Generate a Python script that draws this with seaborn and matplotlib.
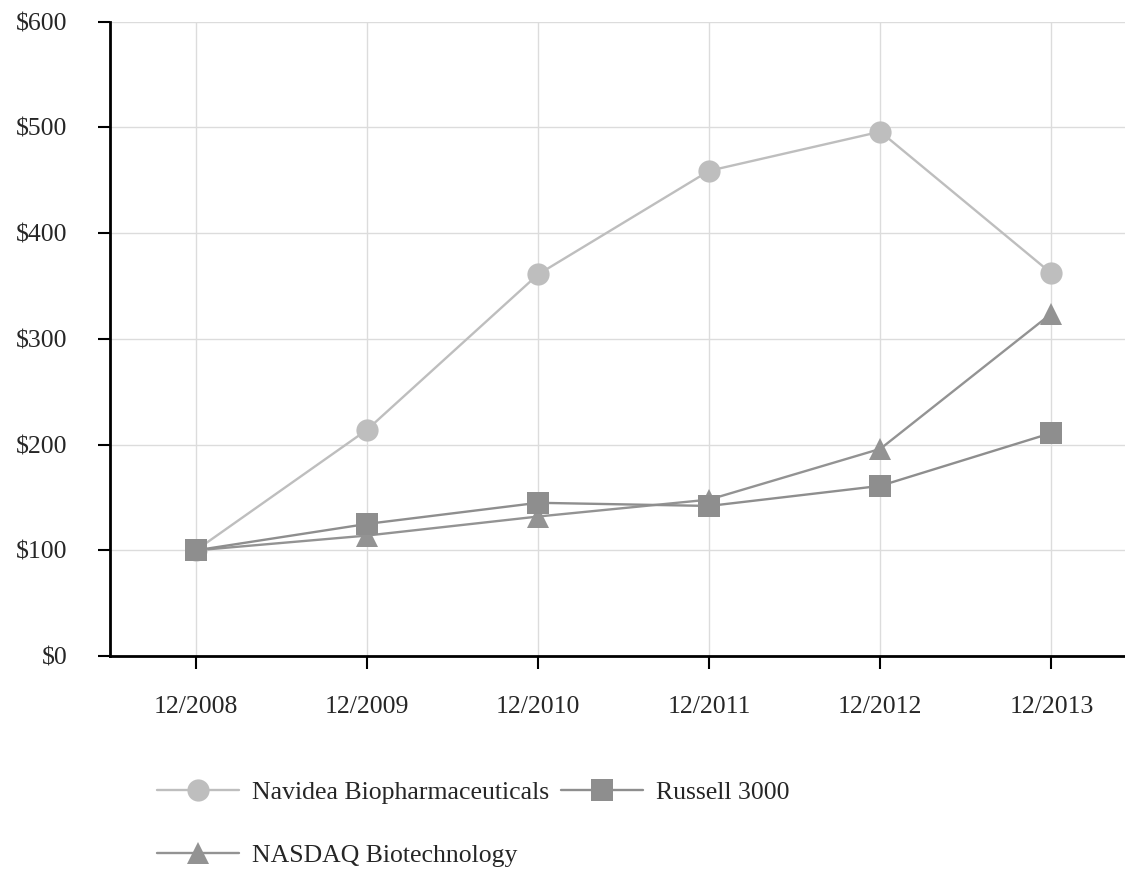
import matplotlib
matplotlib.use('Agg')
import matplotlib.pyplot as plt
import pandas as pd
import seaborn as sns

years = ['12/2008', '12/2009', '12/2010', '12/2011', '12/2012', '12/2013']
navidea = [100, 214, 361, 459, 496, 362]
russell = [100, 125, 145, 142, 161, 211]
nasdaq = [100, 114, 132, 148, 196, 324]
series_names = ['Navidea Biopharmaceuticals', 'Russell 3000', 'NASDAQ Biotechnology']

df = pd.DataFrame({
    'x': list(range(len(years))) * 3,
    'value': navidea + russell + nasdaq,
    'series': [n for n in series_names for _ in years],
})

sns.set_style('white')
plt.rcParams['font.family'] = ['Liberation Serif', 'DejaVu Serif']

fig = plt.figure(figsize=(11.25, 8.69), dpi=100)
ax = fig.add_axes([0.098, 0.245, 0.902, 0.73])

palette = {'Navidea Biopharmaceuticals': '#bebebe', 'Russell 3000': '#8e8e8e',
           'NASDAQ Biotechnology': '#939393'}
markers = {'Navidea Biopharmaceuticals': 'o', 'Russell 3000': 's',
           'NASDAQ Biotechnology': '^'}

# draw NASDAQ first so squares stay on top
for name in ['NASDAQ Biotechnology', 'Navidea Biopharmaceuticals', 'Russell 3000']:
    sub = df[df['series'] == name]
    sns.lineplot(data=sub, x='x', y='value', color=palette[name], marker=markers[name],
                 markersize=16, markeredgewidth=0, linewidth=1.7, ax=ax, label=name)

ax.set_xlim(-0.5, 5.43)
ax.set_ylim(0, 600)
ax.set_xticks(range(len(years)))
ax.set_xticklabels(years)
ax.set_yticks(range(0, 601, 100))
ax.set_yticklabels([f'${v}' for v in range(0, 601, 100)])
ax.set_xlabel('')
ax.set_ylabel('')
ax.grid(True, color='#dcdcdc', linewidth=1)
for s in ['top', 'right']:
    ax.spines[s].set_visible(False)
for s in ['left', 'bottom']:
    ax.spines[s].set_color('black')
    ax.spines[s].set_linewidth(2)
ax.tick_params(axis='both', which='both', direction='out', length=9, width=1.5,
               color='black', labelsize=18.5, left=True, bottom=True)
ax.tick_params(axis='x', pad=20)
ax.tick_params(axis='y', pad=22)

handles, labels = ax.get_legend_handles_labels()
# legend fills column-wise: row 1 = Navidea, Russell; row 2 = NASDAQ
legend_order = ['Navidea Biopharmaceuticals', 'NASDAQ Biotechnology', 'Russell 3000']
order = [labels.index(n) for n in legend_order]
ax.get_legend().remove()
fig.legend([handles[i] for i in order], [labels[i] for i in order],
           loc='upper left', bbox_to_anchor=(0.119, 0.128), ncol=2, frameon=False,
           fontsize=18.5, handlelength=3.2, labelspacing=1.55, columnspacing=0.45,
           handletextpad=0.5)

fig.savefig('out.png', dpi=100)
